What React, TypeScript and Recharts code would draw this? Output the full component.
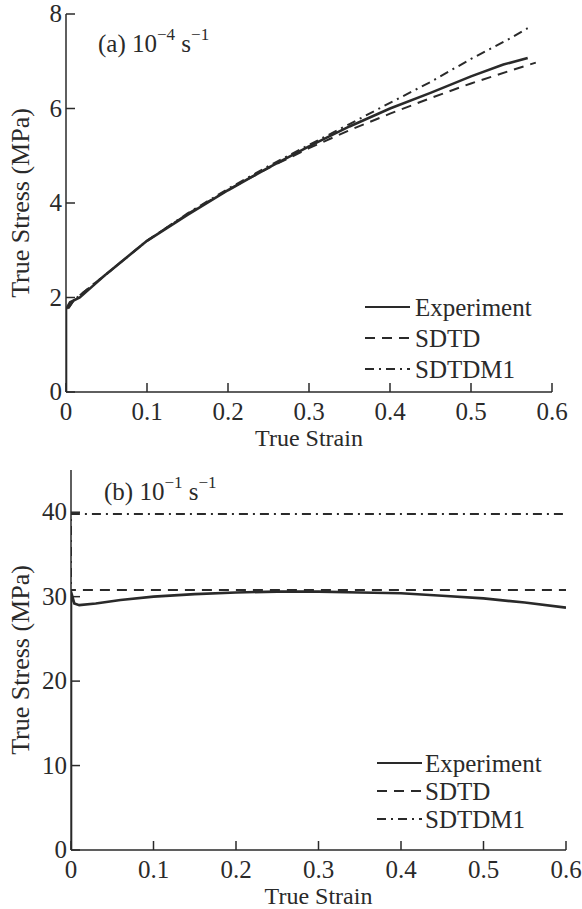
import React from 'react';
import { LineChart, Line, XAxis, YAxis, Legend, Customized } from 'recharts';

// ---------- Panel (a): 10^-4 s^-1 ----------
const aExpStrain = [0, 0, 0.005, 0.017, 0.05, 0.1, 0.15, 0.2, 0.25, 0.3, 0.35, 0.4, 0.45, 0.5, 0.54, 0.57];
const aExpStress = [0, 1.75, 1.9, 2.0, 2.5, 3.2, 3.75, 4.27, 4.75, 5.2, 5.62, 6.0, 6.33, 6.68, 6.93, 7.07];
const aSdtdStrain = [0, 0, 0.01, 0.05, 0.1, 0.15, 0.2, 0.25, 0.3, 0.35, 0.4, 0.45, 0.5, 0.55, 0.58];
const aSdtdStress = [0, 1.7, 1.95, 2.5, 3.2, 3.77, 4.28, 4.74, 5.16, 5.54, 5.89, 6.22, 6.53, 6.81, 6.97];
const aM1Strain = [0, 0, 0.01, 0.05, 0.1, 0.15, 0.2, 0.25, 0.3, 0.35, 0.4, 0.45, 0.5, 0.55, 0.57];
const aM1Stress = [0, 1.7, 1.95, 2.5, 3.2, 3.78, 4.3, 4.78, 5.23, 5.67, 6.12, 6.56, 7.05, 7.5, 7.7];

// ---------- Panel (b): 10^-1 s^-1 ----------
const bExpStrain = [0, 0, 0.004, 0.01, 0.03, 0.06, 0.1, 0.15, 0.2, 0.25, 0.3, 0.35, 0.4, 0.45, 0.5, 0.55, 0.6];
const bExpStress = [0, 30.6, 29.2, 29.0, 29.2, 29.6, 30.0, 30.3, 30.5, 30.6, 30.6, 30.5, 30.4, 30.1, 29.8, 29.3, 28.7];
const bSdtdStrain = [0, 0, 0.6];
const bSdtdStress = [0, 30.8, 30.8];
const bM1Strain = [0, 0, 0.6];
const bM1Stress = [0, 39.8, 39.8];

// ---------- Axes / labels ----------
const strainTicks = [0, 0.1, 0.2, 0.3, 0.4, 0.5, 0.6];
const aStressTicks = [0, 2, 4, 6, 8];
const bStressTicks = [0, 10, 20, 30, 40];
const seriesNames = ['Experiment', 'SDTD', 'SDTDM1'];
const xLabel = 'True Strain';
const yLabel = 'True Stress (MPa)';

const FONT = '"Liberation Serif", "Times New Roman", serif';
const INK = '#2a2a2a';
const FS = 25;
const DASHES = ['', '10 7', '9 5 2 5'];

const toPts = (xs: number[], ys: number[]) => xs.map((x, i) => ({ x, y: ys[i] }));

const XTick = (props: any) => {
  const { x, y, payload } = props;
  return (
    <g>
      <line x1={x} x2={x} y1={y} y2={y - 9} stroke={INK} strokeWidth={1.5} />
      <text x={x} y={y + 28} textAnchor="middle" fontSize={FS} fontFamily={FONT} fill={INK}>
        {payload.value}
      </text>
    </g>
  );
};

const YTick = (props: any) => {
  const { x, y, payload } = props;
  return (
    <g>
      <line x1={x} x2={x + 9} y1={y} y2={y} stroke={INK} strokeWidth={1.5} />
      <text x={x - 4} y={y + 8} textAnchor="end" fontSize={FS} fontFamily={FONT} fill={INK}>
        {payload.value}
      </text>
    </g>
  );
};

const LegendBox = ({ rows, lineX0, lineX1, textX }: any) => (
  <svg width={230} height={100} style={{ display: 'block', overflow: 'visible' }}>
    {seriesNames.map((n, i) => (
      <g key={n}>
        <line x1={lineX0} x2={lineX1} y1={rows[i]} y2={rows[i]} stroke={INK} strokeWidth={2}
          strokeDasharray={DASHES[i] || undefined} />
        <text x={textX} y={rows[i] + 8.5} fontSize={FS} fontFamily={FONT} fill={INK}>{n}</text>
      </g>
    ))}
  </svg>
);

const Title = ({ x, y, rate }: { x: number; y: number; rate: string }) => (
  <text x={x} y={y} fontSize={FS} fontFamily={FONT} fill={INK}>
    {'(' + rate + ') 10'}
    <tspan dy={-12} fontSize={17}>{rate === 'a' ? '\u22124' : '\u22121'}</tspan>
    <tspan dy={12}>{' s'}</tspan>
    <tspan dy={-12} fontSize={17}>{'\u22121'}</tspan>
  </text>
);

const YLabel = ({ cx, cy }: { cx: number; cy: number }) => (
  <text transform={`translate(${cx},${cy}) rotate(-90)`} textAnchor="middle" fontSize={26}
    fontFamily={FONT} fill={INK} dy={8}>
    {yLabel}
  </text>
);

const XLabel = ({ cx, y }: { cx: number; y: number }) => (
  <text x={cx} y={y} textAnchor="middle" fontSize={24} fontFamily={FONT} fill={INK}>
    {xLabel}
  </text>
);

const Panel = (p: any) => {
  const { width, height, margin, yWidth, xHeight, yDomain, yTicks, series, title, legend } = p;
  const plotLeft = margin.left + yWidth;
  const plotRight = width - margin.right;
  const plotTop = margin.top;
  const plotBottom = height - margin.bottom - xHeight;
  return (
    <LineChart width={width} height={height} margin={margin}>
      <XAxis dataKey="x" type="number" domain={[0, 0.6]} ticks={strainTicks} height={xHeight}
        axisLine={{ stroke: INK, strokeWidth: 1.5 }} tickLine={false} tickSize={0} tickMargin={0}
        tick={<XTick />} interval={0} allowDataOverflow />
      <YAxis dataKey="y" type="number" domain={yDomain} ticks={yTicks} width={yWidth}
        axisLine={{ stroke: INK, strokeWidth: 1.5 }} tickLine={false} tickSize={0} tickMargin={0}
        tick={<YTick />} interval={0} allowDataOverflow />
      {series.map((s: any, i: number) => (
        <Line key={seriesNames[i]} name={seriesNames[i]} data={s} dataKey="y" type="linear"
          stroke={INK} strokeWidth={i === 0 ? 2.6 : 2} strokeDasharray={DASHES[i] || undefined}
          dot={false} activeDot={false} isAnimationActive={false} />
      ))}
      <Legend layout="vertical" align="center" verticalAlign="middle"
        wrapperStyle={{ position: 'absolute', left: legend.left, top: legend.top, width: 230, height: 100 }}
        content={() => <LegendBox rows={legend.rows} lineX0={legend.x0} lineX1={legend.x1} textX={legend.tx} />} />
      <Customized component={() => (
        <g>
          <Title x={title.x} y={title.y} rate={title.rate} />
          <YLabel cx={21} cy={(plotTop + plotBottom) / 2} />
          <XLabel cx={(plotLeft + plotRight) / 2} y={plotBottom + 54} />
        </g>
      )} />
    </LineChart>
  );
};

export default function App() {
  return (
    <div style={{ position: 'absolute', left: 0, top: 0, width: 582, height: 909, background: '#fff', fontFamily: FONT }}>
      <Panel width={582} height={450} margin={{ top: 14, right: 30, bottom: 0, left: 0 }}
        yWidth={66} xHeight={58} yDomain={[0, 8]} yTicks={aStressTicks}
        series={[toPts(aExpStrain, aExpStress), toPts(aSdtdStrain, aSdtdStress), toPts(aM1Strain, aM1Stress)]}
        title={{ x: 98, y: 52, rate: 'a' }}
        legend={{ left: 360, top: 290, rows: [17, 48, 79], x0: 5, x1: 50, tx: 55 }} />
      <Panel width={582} height={459} margin={{ top: 20, right: 16, bottom: 0, left: 0 }}
        yWidth={71} xHeight={59} yDomain={[0, 45]} yTicks={bStressTicks}
        series={[toPts(bExpStrain, bExpStress), toPts(bSdtdStrain, bSdtdStress), toPts(bM1Strain, bM1Stress)]}
        title={{ x: 104, y: 50, rate: 'b' }}
        legend={{ left: 372, top: 300, rows: [13, 41, 69], x0: 5, x1: 50, tx: 53 }} />
    </div>
  );
}
